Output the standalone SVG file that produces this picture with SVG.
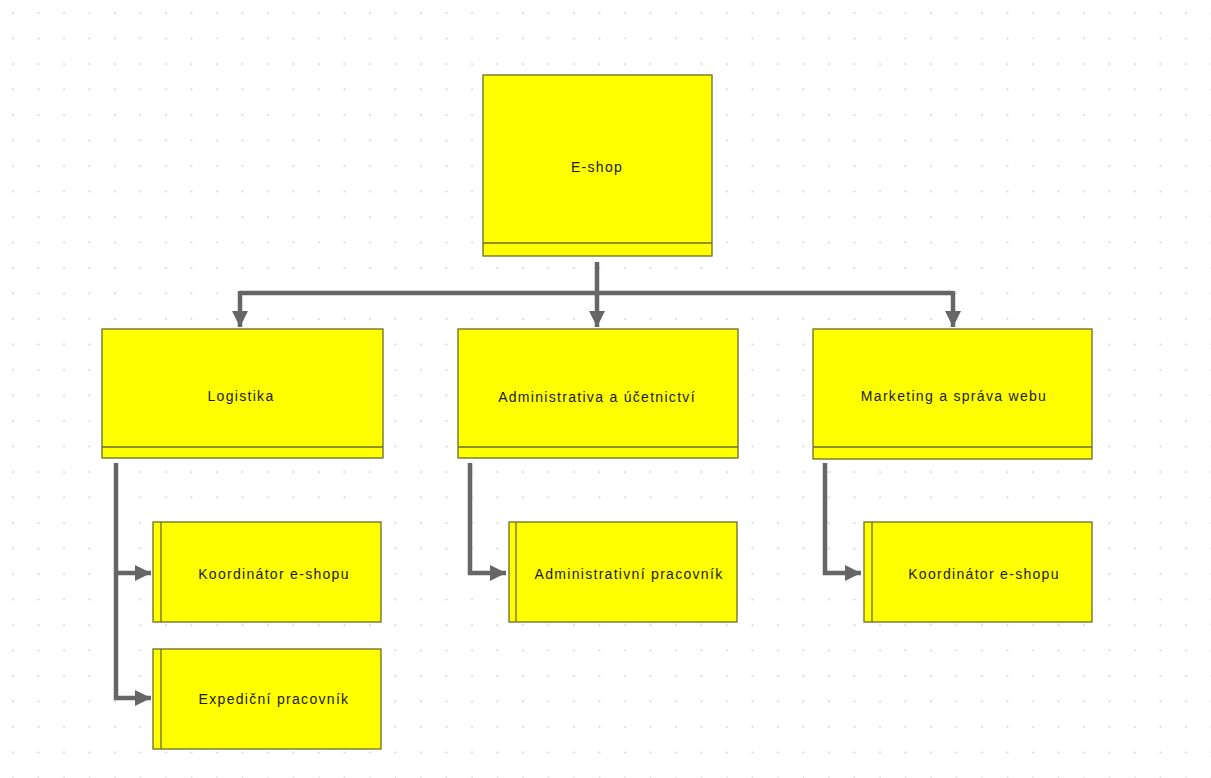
<svg xmlns="http://www.w3.org/2000/svg" width="1211" height="778" viewBox="0 0 1211 778">
<defs>
<pattern id="grid" x="0" y="0" width="25.5" height="25.5" patternUnits="userSpaceOnUse">
<circle cx="13" cy="13" r="1" fill="#cfcfcf"/>
</pattern>
<marker id="arr" viewBox="0 0 10 10" refX="10" refY="5" markerWidth="3.6" markerHeight="3.6" orient="auto" markerUnits="strokeWidth">
<path d="M0,0 L10,5 L0,10 Z" fill="#666666"/>
</marker>
<style>
.box{fill:#ffff00;stroke:#6b6b2a;stroke-width:1.3}
.sep{stroke:#6b6b2a;stroke-width:1.3;fill:none}
.lbl{font-family:"Liberation Sans",Arial,sans-serif;font-size:14px;fill:#1a1a1a;text-anchor:middle;dominant-baseline:middle;letter-spacing:1.3px}
.con{fill:none;stroke:#666666;stroke-width:4.5;stroke-linejoin:miter}
</style>
</defs>
<rect width="1211" height="778" fill="#ffffff"/>
<rect width="1211" height="778" fill="url(#grid)"/>

<g id="connectors">
<path class="con" d="M597,262 V293"/>
<path class="con" d="M240,293 H953"/>
<path class="con" d="M240,291 V327" marker-end="url(#arr)"/>
<path class="con" d="M597,293 V327" marker-end="url(#arr)"/>
<path class="con" d="M953,291 V327" marker-end="url(#arr)"/>
<path class="con" d="M116,463 V698 H151" marker-end="url(#arr)"/>
<path class="con" d="M116,573 H151" marker-end="url(#arr)"/>
<path class="con" d="M470,463 V573 H506" marker-end="url(#arr)"/>
<path class="con" d="M825,463 V573 H861" marker-end="url(#arr)"/>
</g>

<g id="eshop">
<rect class="box" x="483" y="75" width="229" height="181"/>
<line class="sep" x1="483" y1="243" x2="712" y2="243"/>
<text class="lbl" x="597" y="168">E-shop</text>
</g>

<g id="logistika">
<rect class="box" x="102" y="329" width="281" height="129"/>
<line class="sep" x1="102" y1="447" x2="383" y2="447"/>
<text class="lbl" x="241" y="397">Logistika</text>
</g>

<g id="administrativa">
<rect class="box" x="458" y="329" width="280" height="129"/>
<line class="sep" x1="458" y1="447" x2="738" y2="447"/>
<text class="lbl" x="597" y="398">Administrativa a účetnictví</text>
</g>

<g id="marketing">
<rect class="box" x="813" y="329" width="279" height="130"/>
<line class="sep" x1="813" y1="447" x2="1092" y2="447"/>
<text class="lbl" x="954" y="397">Marketing a správa webu</text>
</g>

<g id="koordinator1">
<rect class="box" x="153" y="522" width="228" height="100"/>
<line class="sep" x1="161" y1="522" x2="161" y2="622"/>
<text class="lbl" x="274" y="575">Koordinátor e-shopu</text>
</g>

<g id="expedicni">
<rect class="box" x="153" y="649" width="228" height="100"/>
<line class="sep" x1="161" y1="649" x2="161" y2="749"/>
<text class="lbl" x="274" y="700">Expediční pracovník</text>
</g>

<g id="adminpracovnik">
<rect class="box" x="509" y="522" width="228" height="100"/>
<line class="sep" x1="516" y1="522" x2="516" y2="622"/>
<text class="lbl" x="629" y="575">Administrativní pracovník</text>
</g>

<g id="koordinator2">
<rect class="box" x="864" y="522" width="228" height="100"/>
<line class="sep" x1="872" y1="522" x2="872" y2="622"/>
<text class="lbl" x="984" y="575">Koordinátor e-shopu</text>
</g>
</svg>
